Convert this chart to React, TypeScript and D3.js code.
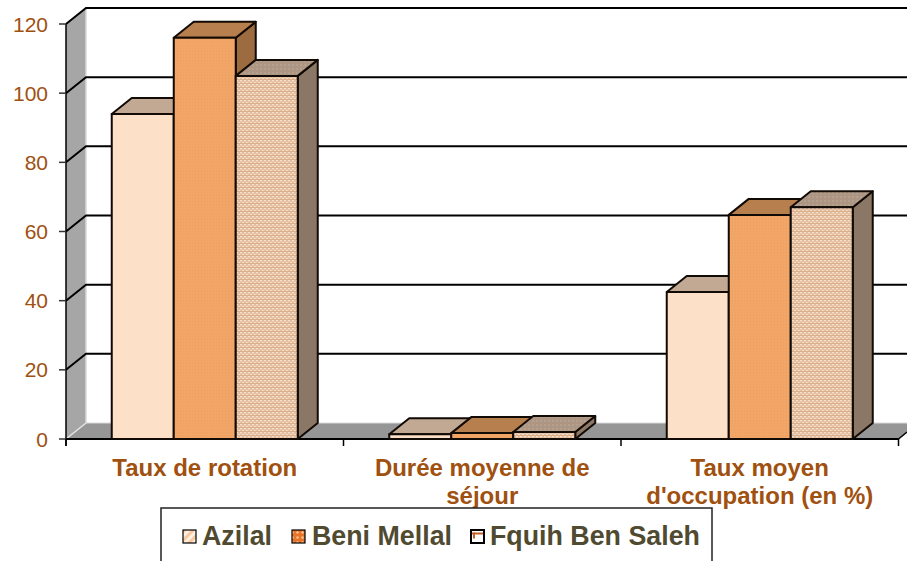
import React from "react";
import * as d3 from "d3";

const categories = ["Taux de rotation", "Durée moyenne de séjour", "Taux moyen d'occupation (en %)"];
const categoryLines = [["Taux de rotation"], ["Durée moyenne de", "séjour"], ["Taux moyen", "d'occupation (en %)"]];
const seriesNames = ["Azilal", "Beni Mellal", "Fquih Ben Saleh"];
const azilal = [94, 1.4, 42.5];
const beniMellal = [116, 1.7, 64.8];
const fquih = [105, 2, 67];
const yTicks = [0, 20, 40, 60, 80, 100, 120];

const seriesValues = [azilal, beniMellal, fquih];
const W = 907, H = 561;
const DX = 20, DY = -16;
const LABEL = "#a0500f";
const LEGEND = "#4f4a30";
const FONT = "'Liberation Sans', Arial, sans-serif";

const x = d3.scaleBand<string>().domain(categories).range([66, 898.5]);
const y = d3.scaleLinear().domain([0, 120]).range([439, 24]);
const BW = 62;

const fronts = ["#fde0c8", "url(#pOrange)", "url(#pDots)"];
const tops = ["#c1a993", "#b87f4e", "url(#pDotsTop)"];
const sides = ["#a38c78", "#9c6b40", "#8b7765"];

const pts = (p: number[][]) => p.map((q) => q.join(",")).join(" ");

export default function App() {
  const x0 = x.range()[0], x1 = x.range()[1];
  const yBase = y(0);
  return (
    <svg width={W} height={H} viewBox={`0 0 ${W} ${H}`} style={{ position: "absolute", left: 0, top: 0, background: "#fff" }} fontFamily={FONT}>
      <defs>
        <pattern id="pOrange" width="3" height="3" patternUnits="userSpaceOnUse">
          <rect width="3" height="3" fill="#f1a566" />
          <rect width="1" height="1" fill="#ee9f5e" />
        </pattern>
        <pattern id="pDots" width="4" height="4" patternUnits="userSpaceOnUse">
          <rect width="4" height="4" fill="#e4bf9f" />
          <rect x="0" y="0" width="2" height="1.4" fill="#f3dcc8" />
          <rect x="2" y="2" width="2" height="1.4" fill="#f3dcc8" />
          <rect x="0" y="3" width="4" height="1" fill="#dcb08c" />
        </pattern>
        <pattern id="pDotsTop" width="4" height="4" patternUnits="userSpaceOnUse">
          <rect width="4" height="4" fill="#ad9784" />
          <rect width="2" height="2" fill="#b5a08d" />
        </pattern>
        <pattern id="lgA" width="6" height="6" patternUnits="userSpaceOnUse" patternTransform="rotate(45)">
          <rect width="6" height="6" fill="#fdf0e4" />
          <rect width="3" height="6" fill="#fbc79c" />
        </pattern>
        <pattern id="lgB" width="5" height="5" patternUnits="userSpaceOnUse">
          <rect width="5" height="5" fill="#e8742a" />
          <circle cx="2.5" cy="2.5" r="1.2" fill="#fbc79c" />
        </pattern>
        <pattern id="lgC" width="12" height="12" patternUnits="userSpaceOnUse">
          <rect width="12" height="12" fill="#fff" />
          <rect y="4.5" width="12" height="2" fill="#c0622a" />
          <rect x="5" y="4.5" width="2" height="6" fill="#c0622a" />
        </pattern>
      </defs>

      {/* walls and floor */}
      <polygon points={pts([[x0, y(120)], [x0 + DX, y(120) + DY], [x0 + DX, yBase + DY], [x0, yBase]])} fill="#a6a6a6" />
      <polygon points={pts([[x0, yBase], [x0 + DX, yBase + DY], [x1 + DX, yBase + DY], [x1, yBase]])} fill="#969696" />
      <line x1={x0 + DX} y1={y(120) + DY} x2={x0 + DX} y2={yBase + DY} stroke="#d9d9d9" strokeWidth={1.5} />
      <line x1={x0 + DX} y1={yBase + DY} x2={W} y2={yBase + DY} stroke="#d9d9d9" strokeWidth={1} />
      <line x1={x0} y1={yBase} x2={x0 + DX} y2={yBase + DY} stroke="#e6e6e6" strokeWidth={1.5} />

      {/* gridlines */}
      {yTicks.filter((t) => t > 0).map((t) => (
        <g key={t} stroke="#000" strokeWidth={2} fill="none">
          <polyline points={pts([[x0, y(t)], [x0 + DX, y(t) + DY], [W, y(t) + DY]])} />
        </g>
      ))}

      {/* axes */}
      <line x1={x0} y1={y(120)} x2={x0} y2={yBase + 7} stroke="#000" strokeWidth={1.5} />
      <line x1={x0} y1={yBase} x2={x1} y2={yBase} stroke="#000" strokeWidth={2} />
      <line x1={x1} y1={yBase} x2={W} y2={yBase - 7} stroke="#000" strokeWidth={1.5} />
      {yTicks.map((t) => (
        <g key={t}>
          <line x1={x0 - 7} x2={x0} y1={y(t)} y2={y(t)} stroke="#333" strokeWidth={1.5} />
          <text x={48} y={y(t) + 7.5} textAnchor="end" fontSize={21} fill={LABEL}>{t}</text>
        </g>
      ))}
      {[...categories.map((c) => x(c)!), x1].map((p, i) => (
        <line key={i} x1={p} x2={p} y1={yBase} y2={yBase + 7} stroke="#000" strokeWidth={1.5} />
      ))}

      {/* bars */}
      {categories.map((c, ci) => {
        const start = x(c)! + x.bandwidth() / 2 - (BW * seriesValues.length) / 2;
        return seriesValues.map((vals, si) => {
          const l = start + si * BW, r = l + BW, t = y(vals[ci]);
          return (
            <g key={c + si} stroke="#120a04" strokeWidth={2} strokeLinejoin="round">
              <polygon points={pts([[r, t], [r + DX, t + DY], [r + DX, yBase + DY], [r, yBase]])} fill={sides[si]} />
              <polygon points={pts([[l, t], [l + DX, t + DY], [r + DX, t + DY], [r, t]])} fill={tops[si]} />
              <rect x={l} y={t} width={BW} height={yBase - t} fill={fronts[si]} />
            </g>
          );
        });
      })}

      {/* category labels */}
      {categoryLines.map((lines, i) => (
        <text key={i} textAnchor="middle" fontSize={24} fontWeight={700} fill={LABEL}>
          {lines.map((ln, j) => (
            <tspan key={j} x={x(categories[i])! + x.bandwidth() / 2} y={476 + j * 28}>{ln}</tspan>
          ))}
        </text>
      ))}

      {/* legend */}
      <rect x={161} y={508} width={551} height={60} fill="#fff" stroke="#222" strokeWidth={1.5} />
      {seriesNames.map((n, i) => {
        const sx = [183, 292, 471][i];
        const tx = [202, 312, 490][i];
        return (
          <g key={n}>
            <rect x={sx} y={530} width={13} height={13} fill={`url(#${["lgA", "lgB", "lgC"][i]})`} stroke="#000" strokeWidth={i === 2 ? 2 : 1.2} />
            <text x={tx} y={545} fontSize={26.8} fontWeight={700} fill={LEGEND}>{n}</text>
          </g>
        );
      })}
    </svg>
  );
}
